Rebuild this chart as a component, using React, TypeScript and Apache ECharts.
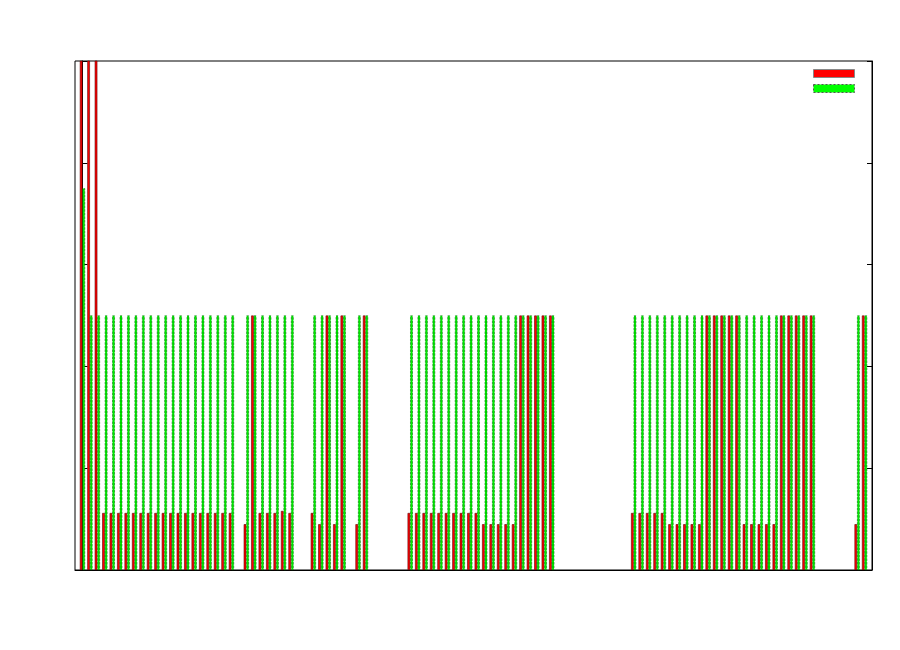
import React, { useEffect, useRef } from "react";
import * as echarts from "echarts";

// Slot positions along the x axis (0..105); null = no bar in that slot
const redValues: (number | null)[] = [
  6, 6, 6, 0.56, 0.56, 0.56, 0.56, 0.56, 0.56, 0.56, // 0-9
  0.56, 0.56, 0.56, 0.56, 0.56, 0.56, 0.56, 0.56, 0.56, 0.56, // 10-19
  0.56, null, 0.45, 2.5, 0.56, 0.56, 0.56, 0.58, 0.56, null, // 20-29
  null, 0.56, 0.45, 2.5, 0.45, 2.5, null, 0.45, 2.5, null, // 30-39
  null, null, null, null, 0.56, 0.56, 0.56, 0.56, 0.56, 0.56, // 40-49
  0.56, 0.56, 0.56, 0.56, 0.45, 0.45, 0.45, 0.45, 0.45, 2.5, // 50-59
  2.5, 2.5, 2.5, 2.5, null, null, null, null, null, null, // 60-69
  null, null, null, null, 0.56, 0.56, 0.56, 0.56, 0.56, 0.45, // 70-79
  0.45, 0.45, 0.45, 0.45, 2.5, 2.5, 2.5, 2.5, 2.5, 0.45, // 80-89
  0.45, 0.45, 0.45, 0.45, 2.5, 2.5, 2.5, 2.5, 2.5, null, // 90-99
  null, null, null, null, 0.45, 2.5, // 100-105
];

const greenValues: (number | null)[] = [
  3.75, 2.5, 2.5, 2.5, 2.5, 2.5, 2.5, 2.5, 2.5, 2.5, // 0-9
  2.5, 2.5, 2.5, 2.5, 2.5, 2.5, 2.5, 2.5, 2.5, 2.5, // 10-19
  2.5, null, 2.5, 2.5, 2.5, 2.5, 2.5, 2.5, 2.5, null, // 20-29
  null, 2.5, 2.5, 2.5, 2.5, 2.5, null, 2.5, 2.5, null, // 30-39
  null, null, null, null, 2.5, 2.5, 2.5, 2.5, 2.5, 2.5, // 40-49
  2.5, 2.5, 2.5, 2.5, 2.5, 2.5, 2.5, 2.5, 2.5, 2.5, // 50-59
  2.5, 2.5, 2.5, 2.5, null, null, null, null, null, null, // 60-69
  null, null, null, null, 2.5, 2.5, 2.5, 2.5, 2.5, 2.5, // 70-79
  2.5, 2.5, 2.5, 2.5, 2.5, 2.5, 2.5, 2.5, 2.5, 2.5, // 80-89
  2.5, 2.5, 2.5, 2.5, 2.5, 2.5, 2.5, 2.5, 2.5, null, // 90-99
  null, null, null, null, 2.5, 2.5, // 100-105
];

const xRange = [-1, 106];
const yRange = [0, 5];
const yInterval = 1;

function toPoints(vals: (number | null)[]) {
  const out: [number, number][] = [];
  vals.forEach((v, k) => {
    if (v != null) out.push([k, v]);
  });
  return out;
}

export default function App() {
  const ref = useRef<HTMLDivElement>(null);

  useEffect(() => {
    if (!ref.current) return;
    const chart = echarts.init(ref.current, null, { renderer: "svg" });
    const yAxisBase = {
      type: "value" as const,
      min: yRange[0],
      max: yRange[1],
      interval: yInterval,
      axisLabel: { show: false },
      splitLine: { show: false },
      axisLine: { show: true, lineStyle: { color: "#000", width: 1 } },
      axisTick: { show: true, inside: true, length: 5, lineStyle: { color: "#000" } },
    };
    chart.setOption({
      animation: false,
      backgroundColor: "#fff",
      grid: {
        left: 75,
        top: 61,
        width: 797,
        height: 509,
        show: true,
        borderColor: "#000",
        borderWidth: 1,
        containLabel: false,
      },
      xAxis: {
        type: "value",
        min: xRange[0],
        max: xRange[1],
        axisLabel: { show: false },
        axisTick: { show: false },
        splitLine: { show: false },
        axisLine: { show: true, lineStyle: { color: "#000" } },
      },
      yAxis: [
        { ...yAxisBase, position: "left" },
        { ...yAxisBase, position: "right" },
      ],
      series: [
        {
          type: "bar",
          name: "red",
          data: toPoints(redValues),
          barWidth: 2.6,
          barGap: "0%",
          clip: true,
          itemStyle: {
            color: "#ff0000",
            borderColor: "#600000",
            borderWidth: 0.6,
          },
        },
        {
          type: "bar",
          name: "green",
          data: toPoints(greenValues),
          barWidth: 2.6,
          barGap: "0%",
          clip: true,
          itemStyle: {
            color: "#00ee00",
            borderColor: "#007000",
            borderWidth: 0.6,
            borderType: "dashed",
          },
        },
      ],
      graphic: [
        {
          type: "rect",
          left: 813,
          top: 69,
          shape: { width: 41, height: 8 },
          style: { fill: "#ff0000", stroke: "#888", lineWidth: 1 },
        },
        {
          type: "rect",
          left: 813,
          top: 84,
          shape: { width: 41, height: 8 },
          style: { fill: "#00ff00", stroke: "#555", lineWidth: 1, lineDash: [2, 2] },
        },
      ],
    });
    return () => chart.dispose();
  }, []);

  return (
    <div
      ref={ref}
      style={{ position: "fixed", left: 0, top: 0, width: 900, height: 650, background: "#fff" }}
    />
  );
}
